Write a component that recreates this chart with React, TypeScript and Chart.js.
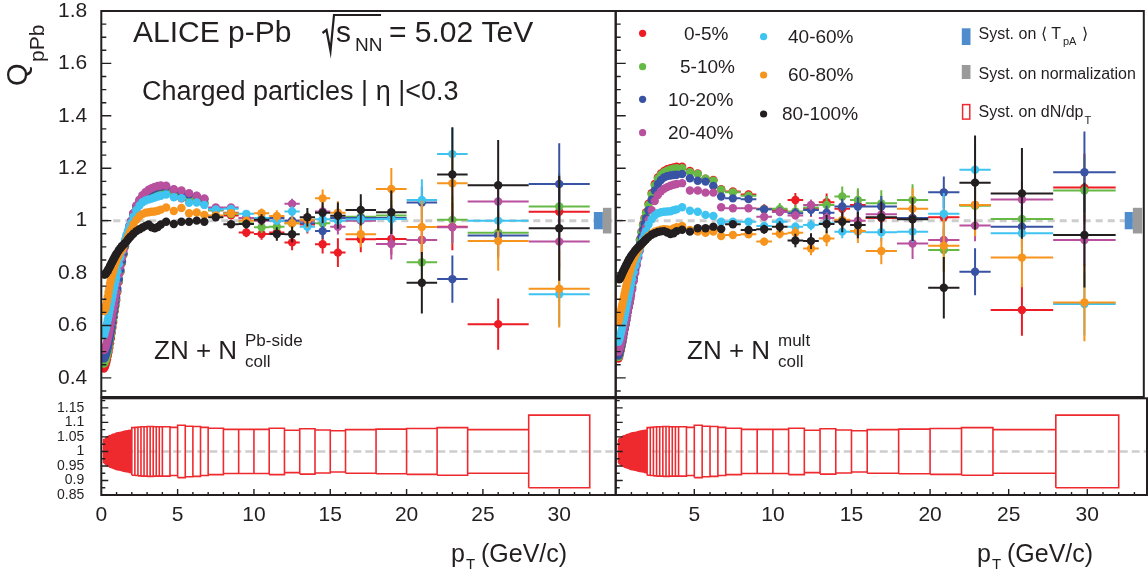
import React, { useEffect, useRef } from "react";
import { Chart, registerables } from "chart.js";

Chart.register(...registerables);

// ----------------------------- data -----------------------------
const ptBinEdges = [
  0.15, 0.2, 0.25, 0.3, 0.35, 0.4, 0.45, 0.5, 0.55, 0.6, 0.65, 0.7, 0.75, 0.8, 0.85, 0.9, 0.95, 1.0,
  1.1, 1.2, 1.3, 1.4, 1.5, 1.6, 1.7, 1.8, 1.9, 2.0,
  2.2, 2.4, 2.6, 2.8, 3.0, 3.2, 3.4, 3.6, 3.8, 4.0,
  4.5, 5.0, 5.5, 6.0, 6.5, 7.0,
  8, 9, 10, 11, 12, 13, 14, 15, 16,
  18, 20, 22, 24, 28, 32,
];

const centralityClasses = ["0-5%", "5-10%", "10-20%", "20-40%", "40-60%", "60-80%", "80-100%"];

// Q_pPb, ZN + Ncoll(Pb-side)
const qPbSide_0_5 = [0.436,0.441,0.449,0.459,0.471,0.484,0.499,0.515,0.532,0.551,0.571,0.591,0.612,0.633,0.654,0.675,0.696,
  0.728,0.767,0.804,0.838,0.870,0.900,0.928,0.953,0.975,0.994,
  1.020,1.048,1.067,1.080,1.090,1.097,1.103,1.108,1.111,1.113,
  1.112,1.100,1.085,1.080,1.075,1.065,
  1.040,1.020,0.955,0.949,0.955,0.917,0.985,0.910,0.878,0.929,0.930,0.926,0.977,0.605,1.034];
const qPbSide_5_10 = [0.455,0.459,0.466,0.475,0.486,0.498,0.512,0.527,0.544,0.562,0.581,0.600,0.620,0.640,0.660,0.680,0.700,
  0.732,0.770,0.806,0.840,0.872,0.902,0.930,0.955,0.977,0.996,
  1.023,1.051,1.070,1.084,1.094,1.101,1.107,1.112,1.115,1.117,
  1.116,1.104,1.092,1.085,1.080,1.070,
  1.040,1.025,0.990,0.975,0.977,0.990,1.000,0.990,1.010,1.015,1.020,0.841,1.003,0.954,1.054];
const qPbSide_10_20 = [0.474,0.478,0.485,0.494,0.504,0.516,0.529,0.544,0.560,0.577,0.595,0.614,0.633,0.652,0.671,0.690,0.709,
  0.740,0.777,0.812,0.845,0.876,0.905,0.932,0.957,0.979,0.999,
  1.027,1.056,1.077,1.093,1.104,1.112,1.118,1.123,1.127,1.129,
  1.128,1.118,1.108,1.100,1.094,1.082,
  1.045,1.030,1.009,1.005,1.010,1.000,0.990,0.960,1.010,1.010,1.010,1.069,0.777,0.943,1.140];
const qPbSide_20_40 = [0.506,0.510,0.517,0.526,0.536,0.548,0.561,0.575,0.590,0.606,0.623,0.640,0.658,0.676,0.694,0.712,0.730,
  0.759,0.794,0.827,0.858,0.887,0.914,0.939,0.961,0.981,0.999,
  1.028,1.058,1.080,1.097,1.109,1.118,1.124,1.129,1.132,1.134,
  1.133,1.120,1.115,1.105,1.095,1.085,
  1.050,1.050,1.010,1.000,1.000,1.064,1.000,1.035,0.977,1.000,0.911,0.926,0.975,1.073,0.920];
const qPbSide_40_60 = [0.563,0.572,0.583,0.595,0.608,0.622,0.636,0.651,0.666,0.681,0.696,0.711,0.726,0.741,0.755,0.769,0.783,
  0.806,0.834,0.860,0.884,0.906,0.926,0.945,0.962,0.977,0.991,
  1.015,1.040,1.058,1.070,1.077,1.081,1.084,1.088,1.092,1.095,
  1.100,1.089,1.086,1.068,1.069,1.060,
  1.043,1.045,1.026,1.010,1.000,1.035,0.977,1.005,1.000,1.005,1.006,1.079,1.254,1.000,0.719];
const qPbSide_60_80 = [0.655,0.658,0.666,0.679,0.692,0.710,0.727,0.743,0.760,0.773,0.785,0.797,0.808,0.818,0.828,0.838,0.846,
  0.857,0.869,0.880,0.890,0.900,0.912,0.925,0.938,0.952,0.965,
  0.985,1.003,1.017,1.025,1.030,1.032,1.034,1.035,1.038,1.042,
  1.050,1.037,1.048,1.028,1.031,1.022,
  1.020,1.028,1.000,1.028,1.018,0.990,1.003,1.085,1.030,0.948,1.121,0.976,1.143,0.922,0.740];
const qPbSide_80_100 = [0.795,0.794,0.796,0.800,0.805,0.810,0.815,0.820,0.826,0.832,0.838,0.843,0.849,0.855,0.860,0.866,0.871,
  0.878,0.887,0.895,0.902,0.908,0.914,0.920,0.928,0.935,0.941,
  0.950,0.960,0.967,0.974,0.980,0.985,0.975,0.971,0.976,0.985,
  0.996,0.987,0.996,0.996,1.000,0.996,
  1.013,0.986,0.987,1.003,0.949,0.948,1.013,1.030,1.019,1.041,1.032,0.763,1.176,1.135,0.971];

// Q_pPb, ZN + Ncoll(mult)
const qMult_0_5 = [0.474,0.481,0.492,0.505,0.520,0.536,0.552,0.569,0.586,0.603,0.620,0.637,0.654,0.671,0.688,0.705,0.722,
  0.748,0.786,0.823,0.860,0.895,0.928,0.958,0.985,1.010,1.032,
  1.065,1.105,1.140,1.165,1.180,1.190,1.196,1.200,1.203,1.206,
  1.206,1.190,1.180,1.160,1.155,1.120,
  1.111,1.100,1.045,1.040,1.079,1.045,1.070,1.045,1.060,1.010,1.009,1.013,1.060,0.659,1.126];
const qMult_5_10 = [0.480,0.487,0.497,0.510,0.524,0.539,0.555,0.571,0.588,0.605,0.622,0.638,0.655,0.672,0.689,0.706,0.722,
  0.747,0.785,0.821,0.857,0.892,0.925,0.955,0.982,1.006,1.028,
  1.060,1.100,1.134,1.160,1.175,1.185,1.191,1.195,1.198,1.200,
  1.200,1.185,1.178,1.160,1.152,1.118,
  1.108,1.095,1.043,1.045,1.035,1.050,1.060,1.092,1.079,1.066,1.079,0.888,1.057,1.006,1.115];
const qMult_10_20 = [0.485,0.492,0.502,0.514,0.527,0.541,0.556,0.572,0.588,0.604,0.620,0.636,0.652,0.668,0.684,0.700,0.716,
  0.740,0.777,0.812,0.846,0.879,0.910,0.939,0.965,0.988,1.009,
  1.040,1.080,1.115,1.140,1.155,1.165,1.170,1.172,1.174,1.175,
  1.178,1.162,1.152,1.149,1.132,1.092,
  1.085,1.082,1.043,1.034,1.028,1.041,1.030,1.054,1.054,1.054,1.010,1.108,0.805,0.977,1.185];
const qMult_20_40 = [0.500,0.507,0.516,0.527,0.539,0.552,0.566,0.580,0.595,0.610,0.625,0.640,0.655,0.670,0.685,0.700,0.714,
  0.736,0.769,0.800,0.830,0.859,0.886,0.911,0.934,0.955,0.974,
  1.003,1.040,1.075,1.098,1.112,1.122,1.128,1.133,1.137,1.140,
  1.143,1.115,1.115,1.107,1.107,1.051,
  1.047,1.047,1.015,1.034,1.020,1.060,1.010,1.000,1.000,1.024,0.913,0.926,0.981,1.081,0.926];
const qMult_40_60 = [0.538,0.546,0.556,0.568,0.581,0.595,0.609,0.624,0.639,0.654,0.669,0.684,0.699,0.714,0.728,0.742,0.756,
  0.777,0.803,0.828,0.851,0.872,0.892,0.911,0.929,0.946,0.961,
  0.985,1.005,1.020,1.028,1.032,1.034,1.035,1.036,1.040,1.043,
  1.051,1.038,1.034,1.022,1.018,0.996,
  0.996,0.996,0.980,0.996,0.977,0.983,0.990,0.958,0.958,0.956,0.958,1.026,1.194,0.952,0.682];
const qMult_60_80 = [0.614,0.625,0.638,0.652,0.666,0.680,0.694,0.708,0.722,0.736,0.750,0.763,0.776,0.789,0.801,0.812,0.822,
  0.836,0.852,0.866,0.879,0.890,0.900,0.909,0.917,0.924,0.931,
  0.941,0.950,0.958,0.962,0.965,0.967,0.966,0.964,0.970,0.975,
  0.980,0.964,0.958,0.954,0.958,0.941,
  0.945,0.948,0.920,0.950,0.954,0.894,0.932,1.003,0.960,0.884,1.045,0.904,1.060,0.859,0.688];
const qMult_80_100 = [0.778,0.776,0.779,0.785,0.792,0.799,0.806,0.812,0.818,0.824,0.830,0.836,0.842,0.848,0.853,0.858,0.863,
  0.870,0.878,0.886,0.893,0.899,0.905,0.911,0.917,0.923,0.929,
  0.937,0.946,0.952,0.957,0.959,0.960,0.955,0.949,0.952,0.960,
  0.965,0.958,0.971,0.971,0.977,0.968,
  0.986,0.964,0.967,0.977,0.924,0.922,0.987,0.996,0.983,1.013,1.005,0.744,1.145,1.104,0.945];

// statistical errors, bins from 7 GeV/c upward
const statErr_0_5 = [0.012,0.015,0.018,0.022,0.026,0.030,0.034,0.035,0.055,0.050,0.060,0.080,0.090,0.098,0.130];
const statErr_5_10 = [0.012,0.015,0.018,0.022,0.026,0.030,0.034,0.038,0.045,0.050,0.060,0.080,0.090,0.100,0.130];
const statErr_10_20 = [0.010,0.012,0.014,0.017,0.020,0.024,0.027,0.030,0.035,0.040,0.050,0.060,0.090,0.080,0.155];
const statErr_20_40 = [0.008,0.010,0.012,0.014,0.016,0.020,0.022,0.025,0.030,0.035,0.059,0.050,0.060,0.070,0.100];
const statErr_40_60 = [0.008,0.010,0.012,0.014,0.016,0.020,0.022,0.025,0.030,0.035,0.040,0.079,0.100,0.090,0.120];
const statErr_60_80 = [0.010,0.012,0.015,0.018,0.022,0.026,0.030,0.034,0.045,0.050,0.080,0.100,0.120,0.113,0.148];
const statErr_80_100 = [0.010,0.013,0.017,0.021,0.026,0.030,0.035,0.040,0.050,0.060,0.083,0.117,0.180,0.173,0.200];

// relative systematic uncertainty on dN/dpT (lower panels)
const systDNdpT = [0.040,0.042,0.044,0.046,0.048,0.050,0.051,0.053,0.054,0.055,0.056,0.057,0.058,0.059,0.060,0.061,0.062,
  0.063,0.064,0.065,0.066,0.068,0.069,0.070,0.071,0.072,0.073,
  0.082,0.083,0.084,0.085,0.085,0.086,0.086,0.085,0.085,0.085,
  0.085,0.083,0.090,0.087,0.086,0.083,
  0.080,0.076,0.076,0.076,0.080,0.073,0.078,0.074,0.071,
  0.075,0.077,0.079,0.082,
  0.075,0.125];
const systTpA = 0.033;
const systNorm = 0.049;

const qTicks = [0.4, 0.6, 0.8, 1, 1.2, 1.4, 1.6, 1.8];
const ratioTicks = [0.85, 0.9, 0.95, 1, 1.05, 1.1, 1.15];
const ptTicks = [0, 5, 10, 15, 20, 25, 30];

// ----------------------------- style -----------------------------
const FONT = "'Liberation Sans', Arial, Helvetica, sans-serif";
const INK = "#231f20";
const CLASS_COLORS = ["#ed1c24", "#67b945", "#3953a4", "#b8509e", "#3fc4f1", "#f7941d", "#231f20"];
const W = 1148;
const H = 573;

const pbSideSeries = [qPbSide_0_5, qPbSide_5_10, qPbSide_10_20, qPbSide_20_40, qPbSide_40_60, qPbSide_60_80, qPbSide_80_100];
const multSeries = [qMult_0_5, qMult_5_10, qMult_10_20, qMult_20_40, qMult_40_60, qMult_60_80, qMult_80_100];
const statErrs = [statErr_0_5, statErr_5_10, statErr_10_20, statErr_20_40, statErr_40_60, statErr_60_80, statErr_80_100];

const binCenter = (i: number) => (ptBinEdges[i] + ptBinEdges[i + 1]) / 2;

function seriesDatasets(series: number[][]) {
  const out: any[] = [];
  series.forEach((vals, k) => {
    const color = CLASS_COLORS[k];
    const errs = statErrs[k];
    const off = vals.length - errs.length;
    const bars: any[] = [];
    vals.forEach((v, i) => {
      bars.push({ x: ptBinEdges[i], y: v }, { x: ptBinEdges[i + 1], y: v }, { x: null, y: null });
      if (i >= off) {
        const e = errs[i - off];
        bars.push({ x: binCenter(i), y: v - e }, { x: binCenter(i), y: v + e }, { x: null, y: null });
      }
    });
    out.push({
      label: centralityClasses[k] + " stat",
      data: bars,
      showLine: true,
      borderColor: color,
      borderWidth: 2,
      pointRadius: 0,
      pointHoverRadius: 0,
      spanGaps: false,
      order: (6 - k) * 2 + 1,
    });
    out.push({
      label: centralityClasses[k],
      data: vals.map((v, i) => ({ x: binCenter(i), y: v })),
      showLine: false,
      pointRadius: 4.2,
      pointHoverRadius: 4.2,
      pointBackgroundColor: color,
      pointBorderColor: color,
      pointBorderWidth: 0,
      order: (6 - k) * 2,
    });
  });
  return out;
}

function systBoxDataset() {
  const pts: any[] = [];
  systDNdpT.forEach((s, i) => {
    const a = ptBinEdges[i];
    const b = ptBinEdges[i + 1];
    pts.push({ x: a, y: 1 - s }, { x: b, y: 1 - s }, { x: b, y: 1 + s }, { x: a, y: 1 + s }, { x: a, y: 1 - s }, { x: null, y: null });
  });
  return [{ label: "syst", data: pts, showLine: true, borderColor: "#ee2a2f", borderWidth: 1.6, pointRadius: 0, pointHoverRadius: 0, spanGaps: false }];
}

function text(ctx: CanvasRenderingContext2D, s: string, x: number, y: number, size: number, align: CanvasTextAlign = "left", baseline: CanvasTextBaseline = "alphabetic") {
  ctx.font = `${size}px ${FONT}`;
  ctx.fillStyle = INK;
  ctx.textAlign = align;
  ctx.textBaseline = baseline;
  ctx.fillText(s, x, y);
}

function axisFramePlugin(o: any) {
  return {
    id: "axisFrame",
    beforeDatasetsDraw(chart: any) {
      const { ctx, chartArea: a, scales } = chart;
      const y1 = scales.y.getPixelForValue(1);
      ctx.save();
      ctx.strokeStyle = "#cdcdcd";
      ctx.lineWidth = o.dashWidth;
      ctx.setLineDash(o.dashPattern);
      ctx.beginPath();
      ctx.moveTo(a.left, y1);
      ctx.lineTo(a.right, y1);
      ctx.stroke();
      ctx.restore();
    },
    afterDraw(chart: any) {
      const { ctx, chartArea: a, scales } = chart;
      ctx.save();
      ctx.strokeStyle = INK;
      ctx.lineWidth = 1.4;
      ctx.beginPath();
      const ys = scales.y;
      const kMin = Math.ceil(ys.min / o.yMinor - 1e-6);
      const kMax = Math.floor(ys.max / o.yMinor + 1e-6);
      for (let k = kMin; k <= kMax; k++) {
        const py = ys.getPixelForValue(k * o.yMinor);
        const len = k % o.yRatio === 0 ? o.yLen[0] : o.yLen[1];
        ctx.moveTo(a.left, py);
        ctx.lineTo(a.left + len, py);
      }
      if (o.xMinor) {
        const xs = scales.x;
        const jMax = Math.floor(xs.max / o.xMinor + 1e-6);
        for (let j = 1; j <= jMax; j++) {
          const px = xs.getPixelForValue(j * o.xMinor);
          const len = j % o.xRatio === 0 ? o.xLen[0] : o.xLen[1];
          ctx.moveTo(px, a.bottom);
          ctx.lineTo(px, a.bottom - len);
        }
      }
      ctx.stroke();
      ctx.lineWidth = 2;
      ctx.strokeRect(a.left, a.top, a.right - a.left, a.bottom - a.top);
      ctx.restore();
    },
  };
}

function normBoxesPlugin(xEdges: number[]) {
  return {
    id: "normBoxes",
    afterDatasetsDraw(chart: any) {
      const { ctx, scales } = chart;
      const x0 = scales.x.getPixelForValue(xEdges[0]);
      const x1 = scales.x.getPixelForValue(xEdges[1]);
      const x2 = scales.x.getPixelForValue(xEdges[2]);
      ctx.save();
      ctx.fillStyle = "#4f8ccd";
      const bt = scales.y.getPixelForValue(1 + systTpA);
      const bb = scales.y.getPixelForValue(1 - systTpA);
      ctx.fillRect(x0, bt, x1 - x0, bb - bt);
      ctx.fillStyle = "#9a9a9a";
      const gt = scales.y.getPixelForValue(1 + systNorm);
      const gb = scales.y.getPixelForValue(1 - systNorm);
      ctx.fillRect(x1, gt, x2 - x1, gb - gt);
      ctx.restore();
    },
  };
}

function drawZN(ctx: CanvasRenderingContext2D, x: number, sup: string, supX: number) {
  text(ctx, "ZN + N", x, 359, 26);
  text(ctx, sup, supX, 346, 17);
  text(ctx, "coll", supX, 367, 17);
}

function drawPtTitle(ctx: CanvasRenderingContext2D, x: number) {
  text(ctx, "p", x, 562, 25);
  text(ctx, "T", x + 15, 569, 15);
  text(ctx, "(GeV/c)", x + 30, 562, 25);
}

const upperLeftDecor = {
  id: "upperLeftDecor",
  afterDraw(chart: any) {
    const ctx = chart.ctx as CanvasRenderingContext2D;
    ctx.save();
    text(ctx, "ALICE p-Pb", 133, 42, 30);
    ctx.strokeStyle = INK;
    ctx.lineWidth = 2.2;
    ctx.lineJoin = "miter";
    ctx.beginPath();
    ctx.moveTo(322.5, 33);
    ctx.lineTo(326.5, 30);
    ctx.lineTo(330.5, 51);
    ctx.lineTo(334, 15);
    ctx.lineTo(381, 15);
    ctx.stroke();
    text(ctx, "s", 336, 42, 30);
    text(ctx, "NN", 355, 51, 19);
    text(ctx, "= 5.02 TeV", 389, 42, 30);
    text(ctx, "Charged particles | \u03b7 |<0.3", 142, 100, 27);
    drawZN(ctx, 154, "Pb-side", 245);
    // y title
    ctx.translate(27, 86);
    ctx.rotate(-Math.PI / 2);
    text(ctx, "Q", 0, 0, 29);
    text(ctx, "pPb", 24, 17, 21);
    ctx.restore();
  },
};

const upperRightDecor = {
  id: "upperRightDecor",
  afterDraw(chart: any) {
    const ctx = chart.ctx as CanvasRenderingContext2D;
    ctx.save();
    const markers = [
      [642.6, 33.3, 684], [642.6, 66.7, 680], [642.6, 99.3, 668], [642.6, 132.7, 668],
      [763.6, 36.7, 788], [763.6, 75, 788], [763.6, 114, 782],
    ];
    markers.forEach((m, k) => {
      ctx.fillStyle = CLASS_COLORS[k];
      ctx.beginPath();
      ctx.arc(m[0], m[1], 3.6, 0, Math.PI * 2);
      ctx.fill();
      text(ctx, centralityClasses[k], m[2], m[1] + 1, 19, "left", "middle");
    });
    ctx.fillStyle = "#4f8ccd";
    ctx.fillRect(961.8, 28.3, 8.7, 16.7);
    ctx.fillStyle = "#9a9a9a";
    ctx.fillRect(961.8, 65, 8.7, 14);
    ctx.strokeStyle = "#ee2a2f";
    ctx.lineWidth = 1.5;
    ctx.strokeRect(962.6, 104.6, 7.2, 14.5);
    text(ctx, "Syst. on \u27e8 T", 978.5, 39, 16);
    let w = ctx.measureText("Syst. on \u27e8 T").width;
    text(ctx, "pA", 978.5 + w + 2, 45, 11);
    ctx.font = `11px ${FONT}`;
    const w2 = ctx.measureText("pA").width;
    text(ctx, " \u27e9", 978.5 + w + 3 + w2, 39, 16);
    text(ctx, "Syst. on normalization", 978.5, 79, 16);
    text(ctx, "Syst. on dN/dp", 978.5, 117, 16);
    ctx.font = `16px ${FONT}`;
    w = ctx.measureText("Syst. on dN/dp").width;
    text(ctx, "T", 978.5 + w + 1, 124, 11);
    drawZN(ctx, 687, "mult", 778);
    ctx.restore();
  },
};

const lowerLeftDecor = {
  id: "lowerLeftDecor",
  afterDraw(chart: any) {
    const ctx = chart.ctx as CanvasRenderingContext2D;
    ctx.save();
    drawPtTitle(ctx, 451);
    ctx.restore();
  },
};

const lowerRightDecor = {
  id: "lowerRightDecor",
  afterDraw(chart: any) {
    const ctx = chart.ctx as CanvasRenderingContext2D;
    ctx.save();
    drawPtTitle(ctx, 977);
    ctx.restore();
  },
};

const fmt = (v: any) => String(Number(Number(v).toFixed(3)));

function baseOptions(padding: any, scales: any) {
  return {
    responsive: false,
    animation: false,
    devicePixelRatio: 1,
    events: [],
    layout: { padding },
    plugins: { legend: { display: false }, tooltip: { enabled: false }, title: { display: false } },
    scales,
  };
}

function upperYAxis(show: boolean) {
  if (!show) return { type: "linear", min: 0.327, max: 1.8, display: false };
  return {
    type: "linear",
    min: 0.327,
    max: 1.8,
    position: "left",
    grid: { display: false },
    border: { display: false },
    afterFit: (s: any) => { s.width = 60; s.paddingTop = 0; s.paddingBottom = 0; },
    afterBuildTicks: (s: any) => { s.ticks = qTicks.map((v) => ({ value: v })); },
    ticks: { font: { family: FONT, size: 21 }, color: INK, padding: 6, autoSkip: false, callback: fmt },
  };
}

function lowerYAxis(show: boolean) {
  if (!show) return { type: "linear", min: 0.85, max: 1.183, display: false };
  return {
    type: "linear",
    min: 0.85,
    max: 1.183,
    position: "left",
    grid: { display: false },
    border: { display: false },
    afterFit: (s: any) => { s.width = 60; s.paddingTop = 0; s.paddingBottom = 0; },
    afterBuildTicks: (s: any) => { s.ticks = ratioTicks.map((v) => ({ value: v })); },
    ticks: { font: { family: FONT, size: 14 }, color: INK, padding: 9, autoSkip: false, callback: fmt },
  };
}

function lowerXAxis(max: number, showZero: boolean) {
  return {
    type: "linear",
    min: 0,
    max,
    position: "bottom",
    grid: { display: false },
    border: { display: false },
    afterFit: (s: any) => { s.height = 40; s.paddingLeft = 0; s.paddingRight = 0; },
    afterBuildTicks: (s: any) => { s.ticks = ptTicks.filter((v) => showZero || v !== 0).map((v) => ({ value: v })); },
    ticks: { font: { family: FONT, size: 21 }, color: INK, padding: 0, maxRotation: 0, autoSkip: false, callback: fmt },
  };
}

const LEFT_MAX = 33.7;
const RIGHT_MAX = 33.8;

const upperTicks = { yMinor: 0.05, yRatio: 4, yLen: [10, 5], dashWidth: 3, dashPattern: [7, 5] };
const lowerTicks = { yMinor: 0.025, yRatio: 2, yLen: [7, 4], xMinor: 1, xRatio: 5, xLen: [6, 3], dashWidth: 2.6, dashPattern: [8, 4] };

function makeConfigs() {
  return [
    {
      type: "scatter",
      data: { datasets: seriesDatasets(pbSideSeries) },
      options: baseOptions({ left: 41.3, right: W - 615.7, top: 11, bottom: H - 397 }, {
        x: { type: "linear", min: 0, max: LEFT_MAX, display: false },
        y: upperYAxis(true),
      }),
      plugins: [axisFramePlugin(upperTicks), normBoxesPlugin([32.27, 32.86, 33.42]), upperLeftDecor],
    },
    {
      type: "scatter",
      data: { datasets: seriesDatasets(multSeries) },
      options: baseOptions({ left: 615.7, right: W - 1147, top: 11, bottom: H - 397 }, {
        x: { type: "linear", min: 0, max: RIGHT_MAX, display: false },
        y: upperYAxis(false),
      }),
      plugins: [axisFramePlugin(upperTicks), normBoxesPlugin([32.58, 33.1, 33.7]), upperRightDecor],
    },
    {
      type: "scatter",
      data: { datasets: systBoxDataset() },
      options: baseOptions({ left: 41.3, right: W - 615.7, top: 398.3, bottom: H - 495 - 40 }, {
        x: lowerXAxis(LEFT_MAX, true),
        y: lowerYAxis(true),
      }),
      plugins: [axisFramePlugin(lowerTicks), lowerLeftDecor],
    },
    {
      type: "scatter",
      data: { datasets: systBoxDataset() },
      options: baseOptions({ left: 615.7, right: W - 1147, top: 398.3, bottom: H - 495 - 40 }, {
        x: lowerXAxis(RIGHT_MAX, false),
        y: lowerYAxis(false),
      }),
      plugins: [axisFramePlugin(lowerTicks), lowerRightDecor],
    },
  ];
}

export default function App() {
  const r0 = useRef<HTMLCanvasElement>(null);
  const r1 = useRef<HTMLCanvasElement>(null);
  const r2 = useRef<HTMLCanvasElement>(null);
  const r3 = useRef<HTMLCanvasElement>(null);
  useEffect(() => {
    const refs = [r0, r1, r2, r3];
    const cfgs = makeConfigs();
    const charts = cfgs.map((cfg, i) => new Chart(refs[i].current as HTMLCanvasElement, cfg as any));
    return () => charts.forEach((c) => c.destroy());
  }, []);
  const cs: any = { position: "absolute", left: 0, top: 0, width: W, height: H };
  return (
    <div style={{ position: "fixed", left: 0, top: 0, width: W, height: H, background: "#fff" }}>
      <canvas ref={r0} width={W} height={H} style={cs} />
      <canvas ref={r1} width={W} height={H} style={cs} />
      <canvas ref={r2} width={W} height={H} style={cs} />
      <canvas ref={r3} width={W} height={H} style={cs} />
    </div>
  );
}
